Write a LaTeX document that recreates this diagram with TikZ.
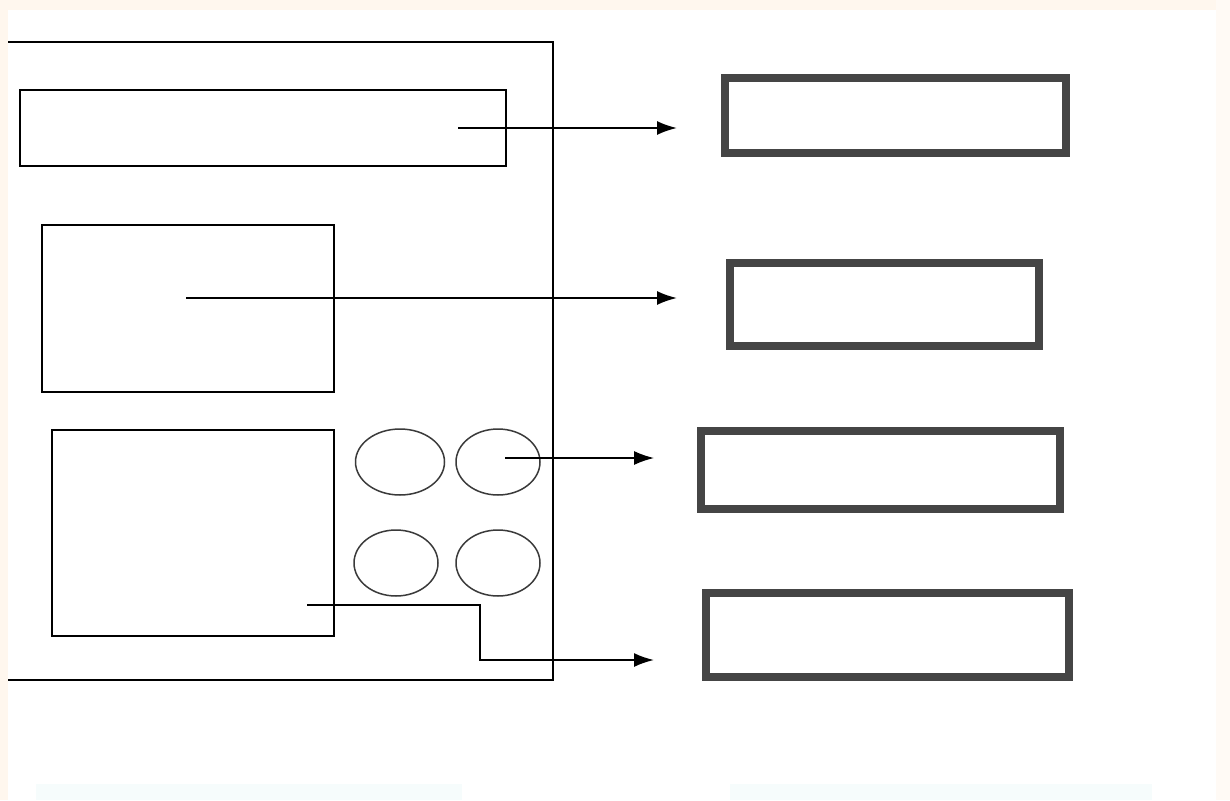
\documentclass[tikz,border=0pt]{standalone}
\usetikzlibrary{arrows.meta,shapes.geometric}
\definecolor{peach}{HTML}{FFF7EE}
\definecolor{palecyan}{HTML}{F6FCFC}
\definecolor{boxgray}{HTML}{454545}
\definecolor{ellgray}{HTML}{3A3A3A}
\begin{document}
\begin{tikzpicture}[x=1pt,y=-1pt,
  thinbox/.style={draw=black,line width=2pt,inner sep=0pt,outer sep=0pt,rectangle},
  thickbox/.style={draw=boxgray,line width=8pt,inner sep=0pt,outer sep=0pt,rectangle},
  oval/.style={draw=ellgray,line width=1.5pt,ellipse,inner sep=0pt,outer sep=0pt},
  frame/.style={draw=black,line width=2pt},
  conn/.style={draw=black,line width=2pt,-{Latex[length=20pt,width=14pt]}},
  thinconn/.style={draw=black,line width=1.5pt,-{Latex[length=20pt,width=14pt]}}]
\useasboundingbox (0,0) rectangle (1230,800);
\fill[white] (0,0) rectangle (1230,800);
\fill[peach] (0,0) rectangle (1230,10);
\fill[peach] (0,0) rectangle (8,800);
\fill[peach!60!white] (1216,0) rectangle (1230,800);
\fill[palecyan] (36,784) rectangle (462,800);
\fill[palecyan] (730,784) rectangle (1152,800);
% outer frame (open on the left)
\draw[frame] (8,42) -- (553,42) -- (553,680) -- (8,680);
% left elements
\node[thinbox,minimum width=486pt,minimum height=76pt] (A) at (263,128) {};
\node[thinbox,minimum width=292pt,minimum height=167pt] (B) at (188,308.5) {};
\node[thinbox,minimum width=282pt,minimum height=206pt] (C) at (193,533) {};
\node[oval,minimum width=89pt,minimum height=66pt] (E1) at (400,462) {};
\node[oval,minimum width=84pt,minimum height=66pt] (E2) at (498,462) {};
\node[oval,minimum width=84pt,minimum height=66pt] (E3) at (396,563) {};
\node[oval,minimum width=84pt,minimum height=66pt] (E4) at (498,563) {};
% right boxes
\node[thickbox,minimum width=341pt,minimum height=75pt] (R1) at (895.5,115.5) {};
\node[thickbox,minimum width=309pt,minimum height=83pt] (R2) at (884.5,304) {};
\node[thickbox,minimum width=359pt,minimum height=78pt] (R3) at (880.5,469.5) {};
\node[thickbox,minimum width=363pt,minimum height=84pt] (R4) at (887.5,634.5) {};
% connector ends
\coordinate (s1) at (458,128);
\coordinate (t1) at (677,128);
\coordinate (s2) at (186,298);
\coordinate (t2) at (677,298);
\coordinate (s3) at (505,458);
\coordinate (t3) at (654,458);
\coordinate (s4) at (307,605);
\coordinate (k4) at (480,605);
\coordinate (t4) at (654,660);
\draw[conn] (s1) -- (t1);
\draw[conn] (s2) -- (t2);
\draw[thinconn] (s3) -- (t3);
\draw[conn] (s4) -- (k4) |- (t4);
\end{tikzpicture}
\end{document}
